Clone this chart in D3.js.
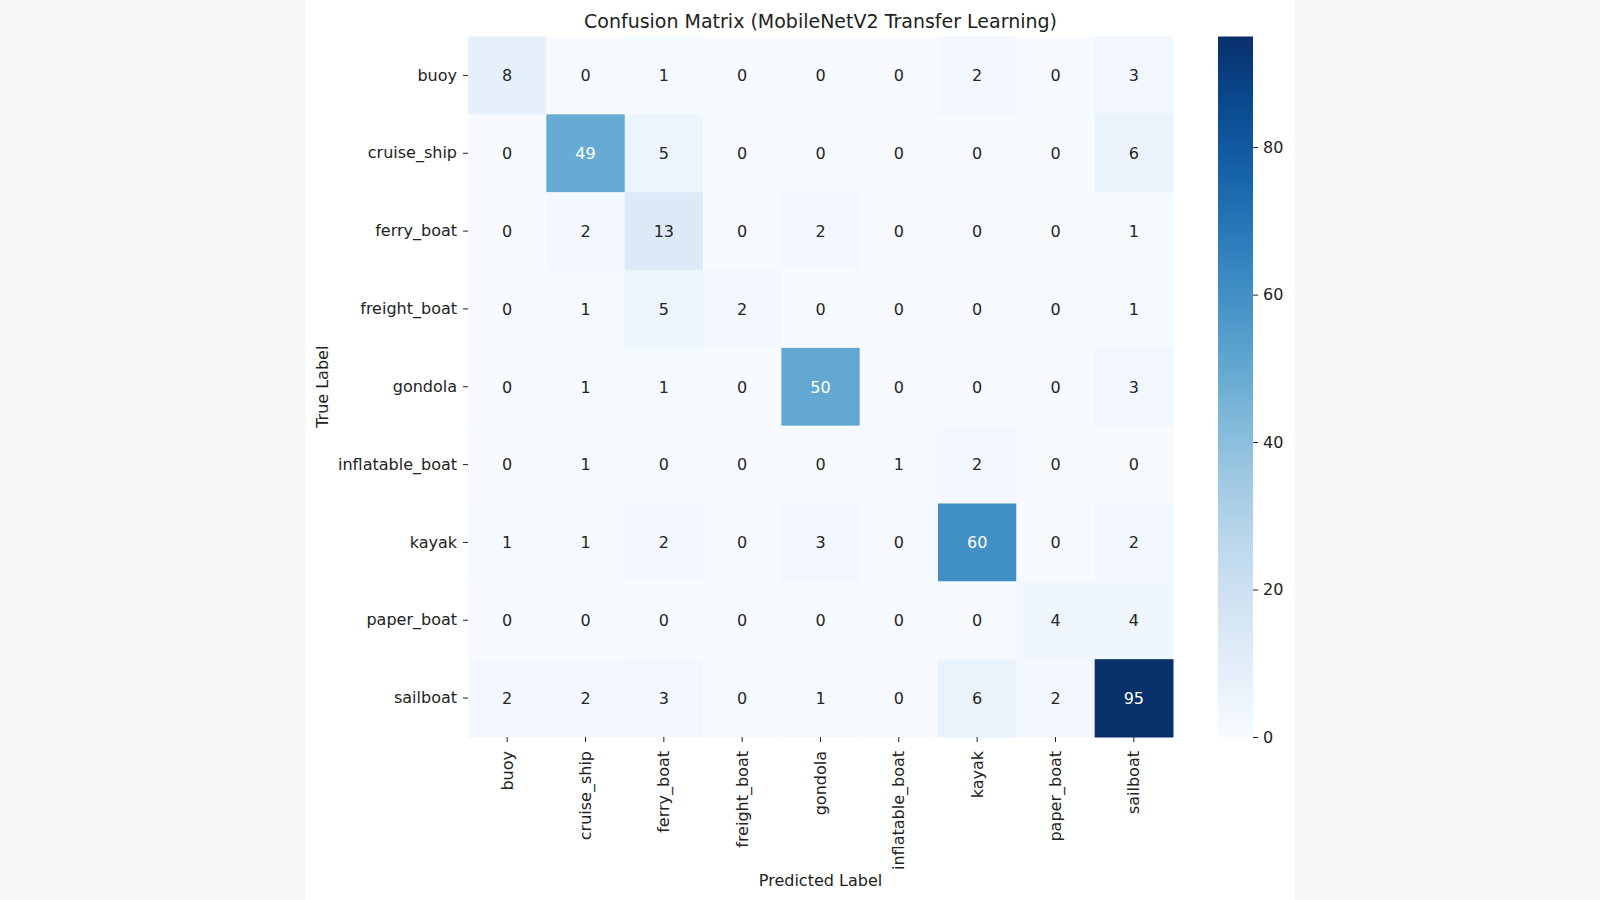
<!DOCTYPE html>
<html>
<head>
<meta charset="utf-8">
<script src="https://cdn.jsdelivr.net/npm/d3@7"></script>
<style>
  body { margin: 0; background: #f6f6f6; }
  svg { display: block; }
  text { font-family: "DejaVu Sans", sans-serif; }
</style>
</head>
<body>
<div id="canvas"></div>
<script>
// Clases del modelo (filas = etiqueta real, columnas = etiqueta predicha)
const classes = ["buoy", "cruise_ship", "ferry_boat", "freight_boat", "gondola",
                 "inflatable_boat", "kayak", "paper_boat", "sailboat"];

// Valores de la matriz de confusion, una fila por clase real
const rowBuoy = [8, 0, 1, 0, 0, 0, 2, 0, 3];
const rowCruiseShip = [0, 49, 5, 0, 0, 0, 0, 0, 6];
const rowFerryBoat = [0, 2, 13, 0, 2, 0, 0, 0, 1];
const rowFreightBoat = [0, 1, 5, 2, 0, 0, 0, 0, 1];
const rowGondola = [0, 1, 1, 0, 50, 0, 0, 0, 3];
const rowInflatableBoat = [0, 1, 0, 0, 0, 1, 2, 0, 0];
const rowKayak = [1, 1, 2, 0, 3, 0, 60, 0, 2];
const rowPaperBoat = [0, 0, 0, 0, 0, 0, 0, 4, 4];
const rowSailboat = [2, 2, 3, 0, 1, 0, 6, 2, 95];

const matrix = [rowBuoy, rowCruiseShip, rowFerryBoat, rowFreightBoat, rowGondola,
                rowInflatableBoat, rowKayak, rowPaperBoat, rowSailboat];

// Ticks de la barra de color
const colorbarTicks = [0, 20, 40, 60, 80];

const width = 1600;
const height = 900;
const fs = "16px";

// Area del mapa de calor
const hm = {left: 468, top: 36.5, right: 1173, bottom: 737};
// Barra de color
const cb = {left: 1218, right: 1253, top: 36.5, bottom: 737};

const svg = d3.select("#canvas").append("svg")
    .attr("width", width)
    .attr("height", height);

// Panel blanco de la figura
svg.append("rect")
    .attr("x", 305).attr("y", 0)
    .attr("width", 990).attr("height", height)
    .attr("fill", "#ffffff");

const cells = [];
matrix.forEach((row, i) => row.forEach((v, j) => {
    cells.push({t: classes[i], p: classes[j], v: v});
}));

const vmax = d3.max(cells, d => d.v);
const color = d3.scaleSequential(d3.interpolateBlues).domain([0, vmax]);

const x = d3.scaleBand().domain(classes).range([hm.left, hm.right]);
const y = d3.scaleBand().domain(classes).range([hm.top, hm.bottom]);

// Luminancia relativa (como seaborn) para elegir el color del texto
function luminance(c) {
    const rgb = d3.rgb(c);
    const f = v => {
        v = v / 255;
        return v <= 0.03928 ? v / 12.92 : Math.pow((v + 0.055) / 1.055, 2.4);
    };
    return 0.2126 * f(rgb.r) + 0.7152 * f(rgb.g) + 0.0722 * f(rgb.b);
}

const g = svg.append("g");

g.selectAll("rect.cell").data(cells).enter().append("rect")
    .attr("class", "cell")
    .attr("x", d => x(d.p))
    .attr("y", d => y(d.t))
    .attr("width", x.bandwidth() + 0.5)
    .attr("height", y.bandwidth() + 0.5)
    .attr("fill", d => color(d.v));

g.selectAll("text.annot").data(cells).enter().append("text")
    .attr("class", "annot")
    .attr("x", d => x(d.p) + x.bandwidth() / 2)
    .attr("y", d => y(d.t) + y.bandwidth() / 2)
    .attr("text-anchor", "middle")
    .attr("dy", "0.36em")
    .style("font-size", fs)
    .attr("fill", d => luminance(color(d.v)) > 0.408 ? "#262626" : "#ffffff")
    .text(d => d.v);

// Eje y (etiqueta real)
const yAxis = svg.append("g")
    .attr("transform", `translate(${hm.left},0)`)
    .call(d3.axisLeft(y).tickSize(5).tickPadding(6));
yAxis.select(".domain").remove();
yAxis.selectAll("line").attr("stroke", "#222");
yAxis.selectAll("text")
    .style("font-size", fs)
    .style("font-family", "DejaVu Sans, sans-serif")
    .attr("fill", "#222");

// Eje x (etiqueta predicha) con textos rotados
const xAxis = svg.append("g")
    .attr("transform", `translate(0,${hm.bottom})`)
    .call(d3.axisBottom(x).tickSize(5));
xAxis.select(".domain").remove();
xAxis.selectAll("line").attr("stroke", "#222");
xAxis.selectAll("text")
    .attr("transform", "rotate(-90)")
    .attr("text-anchor", "end")
    .attr("x", -14)
    .attr("y", 0)
    .attr("dy", "0.35em")
    .style("font-size", fs)
    .style("font-family", "DejaVu Sans, sans-serif")
    .attr("fill", "#222");

// Barra de color
const defs = svg.append("defs");
const grad = defs.append("linearGradient")
    .attr("id", "blues")
    .attr("x1", 0).attr("y1", 1).attr("x2", 0).attr("y2", 0);
d3.range(0, 1.0001, 0.05).forEach(t => {
    grad.append("stop")
        .attr("offset", t)
        .attr("stop-color", d3.interpolateBlues(t));
});
svg.append("rect")
    .attr("x", cb.left).attr("y", cb.top)
    .attr("width", cb.right - cb.left)
    .attr("height", cb.bottom - cb.top)
    .attr("fill", "url(#blues)");

const cScale = d3.scaleLinear().domain([0, vmax]).range([cb.bottom, cb.top]);
const cAxis = svg.append("g")
    .attr("transform", `translate(${cb.right},0)`)
    .call(d3.axisRight(cScale).tickValues(colorbarTicks).tickSize(5).tickPadding(5));
cAxis.select(".domain").remove();
cAxis.selectAll("line").attr("stroke", "#222");
cAxis.selectAll("text")
    .style("font-size", fs)
    .style("font-family", "DejaVu Sans, sans-serif")
    .attr("fill", "#222");

// Titulo
svg.append("text")
    .attr("x", (hm.left + hm.right) / 2)
    .attr("y", 27.5)
    .attr("text-anchor", "middle")
    .style("font-size", "19px")
    .attr("fill", "#222")
    .text("Confusion Matrix (MobileNetV2 Transfer Learning)");

// Etiqueta eje x
svg.append("text")
    .attr("x", (hm.left + hm.right) / 2)
    .attr("y", 886)
    .attr("text-anchor", "middle")
    .style("font-size", fs)
    .attr("fill", "#222")
    .text("Predicted Label");

// Etiqueta eje y
svg.append("text")
    .attr("transform", `translate(328,${(hm.top + hm.bottom) / 2}) rotate(-90)`)
    .attr("text-anchor", "middle")
    .style("font-size", fs)
    .attr("fill", "#222")
    .text("True Label");
</script>
</body>
</html>
